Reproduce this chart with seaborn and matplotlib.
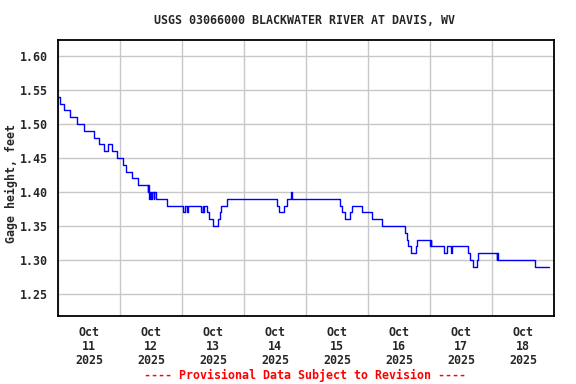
import pandas as pd
import matplotlib
matplotlib.use("Agg")
import matplotlib.pyplot as plt
import matplotlib.dates as mdates
import seaborn as sns

# Gage height change points (step data, 15-min record)
change_times = [
    "2025-10-11 00:00", "2025-10-11 00:45", "2025-10-11 02:30", "2025-10-11 04:45",
    "2025-10-11 07:15", "2025-10-11 10:00", "2025-10-11 14:00", "2025-10-11 16:00",
    "2025-10-11 17:45", "2025-10-11 19:30", "2025-10-11 21:00", "2025-10-11 23:00",
    "2025-10-12 01:00", "2025-10-12 02:30", "2025-10-12 04:45", "2025-10-12 07:00",
    "2025-10-12 10:45", "2025-10-12 11:00", "2025-10-12 11:15", "2025-10-12 11:45",
    "2025-10-12 12:00", "2025-10-12 12:30", "2025-10-12 13:00", "2025-10-12 13:15",
    "2025-10-12 14:00", "2025-10-12 18:00", "2025-10-13 00:30", "2025-10-13 01:15",
    "2025-10-13 01:45", "2025-10-13 02:15", "2025-10-13 07:30", "2025-10-13 08:00",
    "2025-10-13 08:15", "2025-10-13 08:30", "2025-10-13 09:30", "2025-10-13 10:30",
    "2025-10-13 12:00", "2025-10-13 14:00", "2025-10-13 14:45", "2025-10-13 15:15",
    "2025-10-13 17:30", "2025-10-14 12:45", "2025-10-14 13:30", "2025-10-14 15:30",
    "2025-10-14 16:45", "2025-10-14 18:15", "2025-10-14 18:45", "2025-10-15 13:15",
    "2025-10-15 14:00", "2025-10-15 15:00", "2025-10-15 17:00", "2025-10-15 17:45",
    "2025-10-15 21:30", "2025-10-16 01:30", "2025-10-16 05:30", "2025-10-16 14:30",
    "2025-10-16 15:00", "2025-10-16 15:30", "2025-10-16 16:45", "2025-10-16 18:30",
    "2025-10-16 19:00", "2025-10-17 00:00", "2025-10-17 00:15", "2025-10-17 00:30",
    "2025-10-17 05:30", "2025-10-17 06:30", "2025-10-17 08:00", "2025-10-17 08:30",
    "2025-10-17 14:45", "2025-10-17 15:30", "2025-10-17 16:30", "2025-10-17 18:00",
    "2025-10-17 18:45", "2025-10-18 01:45", "2025-10-18 02:00", "2025-10-18 02:30",
    "2025-10-18 16:30", "2025-10-18 22:00",
]
gage_ft = [
    1.54, 1.53, 1.52, 1.51,
    1.50, 1.49, 1.48, 1.47,
    1.46, 1.47, 1.46, 1.45,
    1.44, 1.43, 1.42, 1.41,
    1.40, 1.41, 1.39, 1.40,
    1.39, 1.40, 1.39, 1.40,
    1.39, 1.38, 1.37, 1.38,
    1.37, 1.38, 1.37, 1.38,
    1.37, 1.38, 1.37, 1.36,
    1.35, 1.36, 1.37, 1.38,
    1.39, 1.38, 1.37, 1.38,
    1.39, 1.40, 1.39, 1.38,
    1.37, 1.36, 1.37, 1.38,
    1.37, 1.36, 1.35, 1.34,
    1.33, 1.32, 1.31, 1.32,
    1.33, 1.32, 1.33, 1.32,
    1.31, 1.32, 1.31, 1.32,
    1.31, 1.30, 1.29, 1.30,
    1.31, 1.30, 1.31, 1.30,
    1.29, 1.29,
]

y_ticks = [1.25, 1.30, 1.35, 1.40, 1.45, 1.50, 1.55, 1.60]
x_start = "2025-10-11"
x_end = "2025-10-19"

df = pd.DataFrame({"time": pd.to_datetime(change_times), "gage": gage_ft})

sns.set_style("white")
plt.rcParams["font.family"] = ["DejaVu Sans Mono"]
plt.rcParams["font.weight"] = "bold"

fig = plt.figure(figsize=(5.76, 3.84), dpi=100)
ax = fig.add_axes([58 / 576, 1 - 316 / 384, 496 / 576, 276 / 384])

sns.lineplot(data=df, x="time", y="gage", ax=ax, color="#0000ff", linewidth=1.0,
             drawstyle="steps-post", estimator=None)

ax.set_xlim(pd.Timestamp(x_start), pd.Timestamp(x_end))
ax.set_ylim(1.2175, 1.6235)
ax.set_yticks(y_ticks)
ax.set_yticklabels([f"{v:.2f}" for v in y_ticks], fontsize=8.4, fontweight="bold")

# gridlines at midnight, date labels at noon
ax.xaxis.set_major_locator(mdates.DayLocator())
ax.xaxis.set_major_formatter(plt.NullFormatter())
ax.xaxis.set_minor_locator(mdates.HourLocator(byhour=[12]))
ax.xaxis.set_minor_formatter(mdates.DateFormatter("%b\n%d\n%Y"))
for lbl in ax.xaxis.get_minorticklabels():
    lbl.set_fontsize(8.4)
    lbl.set_fontweight("bold")
    lbl.set_linespacing(1.1)
ax.tick_params(axis="both", which="both", length=0)
ax.tick_params(axis="x", which="minor", pad=7)
ax.tick_params(axis="y", pad=7)

ax.grid(True, which="major", color="#c8c8c8", linewidth=1.0)
ax.set_axisbelow(True)
for s in ax.spines.values():
    s.set_color("black")
    s.set_linewidth(1.3)

ax.set_xlabel("")
ax.set_ylabel("Gage height, feet", fontsize=8.4, fontweight="bold")
ax.yaxis.set_label_coords(-0.080, 0.48)

fig.text(305 / 576, 1 - 20 / 384, "USGS 03066000 BLACKWATER RIVER AT DAVIS, WV",
         ha="center", va="center", fontsize=8.4, fontweight="bold")
fig.text(305 / 576, 1 - 375 / 384, "---- Provisional Data Subject to Revision ----",
         ha="center", va="center", fontsize=8.4, fontweight="bold", color="red")

fig.savefig("out.png", dpi=100)
